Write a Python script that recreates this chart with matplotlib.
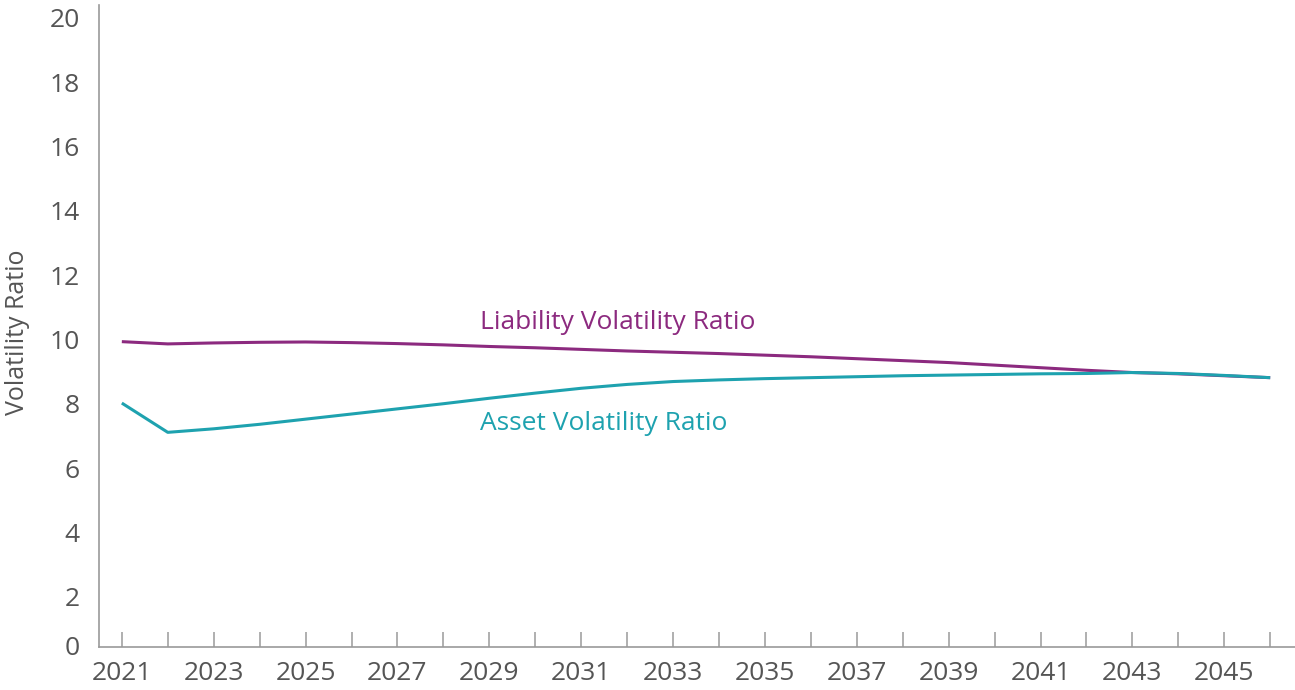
import matplotlib
matplotlib.use("Agg")
import matplotlib.pyplot as plt

plt.rcParams['font.family'] = ['Open Sans', 'DejaVu Sans']

years = list(range(2021, 2047))
liability = [9.93, 9.86, 9.89, 9.91, 9.92, 9.90, 9.87, 9.83, 9.78, 9.74, 9.69, 9.64, 9.60,
             9.56, 9.51, 9.46, 9.40, 9.34, 9.28, 9.20, 9.12, 9.04, 8.97, 8.93, 8.87, 8.81]
asset = [8.02, 7.11, 7.22, 7.36, 7.52, 7.68, 7.84, 8.00, 8.17, 8.33, 8.48, 8.60, 8.69,
         8.74, 8.78, 8.81, 8.84, 8.87, 8.89, 8.91, 8.93, 8.94, 8.97, 8.94, 8.88, 8.81]
y_tick_values = [0, 2, 4, 6, 8, 10, 12, 14, 16, 18, 20]
x_label_years = list(range(2021, 2047, 2))

purple = '#8C2A7F'
teal = '#1EA2AF'
gray_text = '#555555'
gray_axis = '#9A9A9A'

fig = plt.figure(figsize=(12.95, 6.9), dpi=100)
ax = fig.add_axes([0.0767, 0.0628, 0.9233, 0.93])

ax.plot(years, liability, color=purple, lw=2.2, solid_capstyle='butt')
ax.plot(years, asset, color=teal, lw=2.2, solid_capstyle='butt')

ymin, ymax = 0.445, 20.4
ax.set_xlim(2020.51, 2046.54)
ax.set_ylim(ymin, ymax)

ytick_pos = [max(v, ymin + 0.05) for v in y_tick_values]
ax.set_yticks(ytick_pos)
ax.set_yticklabels([str(v) for v in y_tick_values])
ax.tick_params(axis='y', length=0, pad=14, labelsize=19, labelcolor=gray_text)

ax.set_xticks(years, minor=True)
ax.set_xticks(x_label_years)
ax.set_xticklabels([str(y) for y in x_label_years])
ax.tick_params(axis='x', which='both', direction='in', length=11, width=1.1,
               color=gray_axis, pad=10, labelsize=19, labelcolor=gray_text)

for s in ['top', 'right']:
    ax.spines[s].set_visible(False)
for s in ['left', 'bottom']:
    ax.spines[s].set_color(gray_axis)
    ax.spines[s].set_linewidth(1.2)

ax.set_ylabel('Volatility Ratio', fontsize=18, color=gray_text)
ax.yaxis.set_label_coords(-0.058, 0.49)

ax.text(2028.79, 10.54, 'Liability Volatility Ratio', color=purple, fontsize=19,
        va='center', ha='left')
ax.text(2028.79, 7.40, 'Asset Volatility Ratio', color=teal, fontsize=19,
        va='center', ha='left')

fig.savefig('out.png', dpi=100, facecolor='white')
